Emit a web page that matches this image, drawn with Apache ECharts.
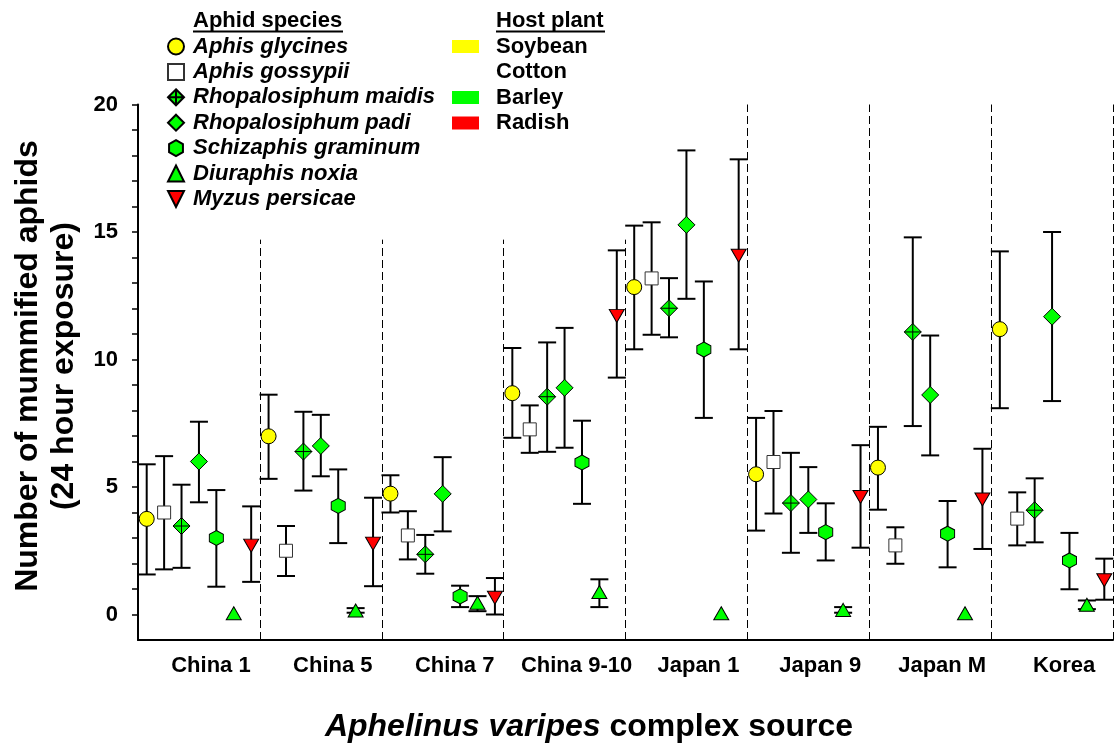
<!DOCTYPE html>
<html><head><meta charset="utf-8">
<script src="https://cdn.jsdelivr.net/npm/echarts@6/dist/echarts.min.js"></script>
<style>html,body{margin:0;padding:0;background:#fff}#c{width:1114px;height:745px}</style>
</head><body><div id="c"></div>
<script>
const sources = ['China 1','China 5','China 7','China 9-10','Japan 1','Japan 9','Japan M','Korea'];
const species = ['Aphis glycines','Aphis gossypii','Rhopalosiphum maidis','Rhopalosiphum padi','Schizaphis graminum','Diuraphis noxia','Myzus persicae'];
const hostPlants = ['Soybean','Cotton','Barley','Radish'];
const yTickLabels = [0,5,10,15,20];

const glycinesMean  = [3.75,6.99,4.74,8.68,12.84,5.50,5.76,11.19];
const glycinesUpper = [5.89,8.62,5.46,10.45,15.25,7.71,7.36,14.24];
const glycinesLower = [1.57,5.32,4.00,6.93,10.40,3.29,4.11,8.09];
const gossypiiMean  = [4.00,2.50,3.10,7.26,13.18,5.98,2.71,3.76];
const gossypiiUpper = [6.21,3.47,4.05,8.20,15.38,7.98,3.42,4.79];
const gossypiiLower = [1.77,1.51,2.16,6.34,10.97,3.96,1.99,2.71];
const maidisMean  = [3.47,6.39,2.36,8.54,12.01,4.37,11.08,4.09];
const maidisUpper = [5.09,7.95,3.12,10.67,13.19,6.34,14.79,5.34];
const maidisLower = [1.83,4.86,1.60,6.38,10.87,2.42,7.39,2.83];
const padiMean  = [6.00,6.61,4.73,8.89,15.28,4.51,8.61,11.68];
const padiUpper = [7.56,7.83,6.17,11.24,18.20,5.78,10.94,15.00];
const padiLower = [4.40,5.42,3.26,6.54,12.38,3.20,6.24,8.37];
const graminumMean  = [3.00,4.26,0.71,5.96,10.39,3.23,3.17,2.12];
const graminumUpper = [4.88,5.69,1.13,7.60,13.06,4.36,4.45,3.20];
const graminumLower = [1.09,2.80,0.29,4.34,7.71,2.12,1.85,0.99];
const noxiaMean  = [0.05,0.16,0.46,0.88,0.05,0.18,0.05,0.38];
const noxiaUpper = [null,0.25,0.72,1.38,null,0.29,null,0.55];
const noxiaLower = [null,0.07,0.13,0.29,null,0.07,null,0.21];
const persicaeMean  = [2.70,2.78,0.66,11.71,14.07,4.61,4.51,1.34];
const persicaeUpper = [4.24,4.58,1.43,14.28,17.85,6.64,6.50,2.19];
const persicaeLower = [1.28,1.11,0.00,9.29,10.40,2.62,2.57,0.58];

const means  = [glycinesMean, gossypiiMean, maidisMean, padiMean, graminumMean, noxiaMean, persicaeMean];
const uppers = [glycinesUpper, gossypiiUpper, maidisUpper, padiUpper, graminumUpper, noxiaUpper, persicaeUpper];
const lowers = [glycinesLower, gossypiiLower, maidisLower, padiLower, graminumLower, noxiaLower, persicaeLower];

const FONT = '"Liberation Sans", Arial, Helvetica, sans-serif';
const YELLOW = '#FFFF00', GREEN = '#00FF00', RED = '#FF0000';
const nSp = species.length;
const xPos = (g, k) => g + (k + 0.5) / nSp;

const styles = [
  {symbol:'circle', size:15, color:YELLOW, border:'#000'},
  {symbol:'rect', size:13, color:'#FFFFFF', border:'#333'},
  {symbol:'path://M0,-1L1,0L0,1L-1,0Z M0,-1L0,1 M-1,0L1,0', size:17, color:GREEN, border:'#000'},
  {symbol:'diamond', size:17, color:GREEN, border:'#000'},
  {symbol:'path://M0,-1L0.866,-0.5L0.866,0.5L0,1L-0.866,0.5L-0.866,-0.5Z', size:[14,15], color:GREEN, border:'#000'},
  {symbol:'path://M0,-1L1,1L-1,1Z', size:[15,13], color:GREEN, border:'#000'},
  {symbol:'path://M-1,-1L1,-1L0,1Z', size:[15,13], color:RED, border:'#000'}
];

const errData = [];
for (let k = 0; k < nSp; k++) {
  for (let g = 0; g < sources.length; g++) {
    if (uppers[k][g] != null) errData.push([xPos(g,k), lowers[k][g], uppers[k][g]]);
  }
}

const dividerTops = [14.7,14.7,14.7,14.7,20,20,20,20];
const dividers = dividerTops.map((t,i) => [{coord:[i+1,-1]},{coord:[i+1,t]}]);

const series = [{
  type:'custom', name:'errorbars', z:1, silent:true,
  encode:{x:0, y:[1,2]},
  data: errData,
  renderItem: function(params, api){
    const x = api.value(0), lo = api.value(1), hi = api.value(2);
    const a = api.coord([x, hi]), b = api.coord([x, lo]);
    const w = 9;
    const st = {stroke:'#000', lineWidth:2, fill:null};
    return {type:'group', children:[
      {type:'line', shape:{x1:a[0], y1:a[1], x2:b[0], y2:b[1]}, style:st},
      {type:'line', shape:{x1:a[0]-w, y1:a[1], x2:a[0]+w, y2:a[1]}, style:st},
      {type:'line', shape:{x1:b[0]-w, y1:b[1], x2:b[0]+w, y2:b[1]}, style:st}
    ]};
  },
  markLine:{silent:true, symbol:['none','none'], label:{show:false},
    lineStyle:{color:'#000', width:1, type:[8,4]}, data: dividers}
}];
species.forEach((name,k) => {
  const s = styles[k];
  series.push({
    type:'scatter', name:name, z:3,
    symbol:s.symbol, symbolSize:s.size,
    itemStyle:{color:s.color, borderColor:s.border, borderWidth:1, opacity:1},
    data: means[k].map((v,g) => [xPos(g,k), v])
  });
});

const chart = echarts.init(document.getElementById('c'), null, {renderer:'canvas'});
const txt = {fill:'#000', fontFamily:FONT, fontWeight:'bold', fontSize:22};
const graphic = [
  {type:'text', x:193, y:21, style:Object.assign({text:'Aphid species', align:'left', verticalAlign:'middle'}, txt)},
  {type:'line', shape:{x1:193, y1:31.5, x2:343, y2:31.5}, style:{stroke:'#000', lineWidth:2}},
  {type:'text', x:496, y:21, style:Object.assign({text:'Host plant', align:'left', verticalAlign:'middle'}, txt)},
  {type:'line', shape:{x1:496, y1:31.5, x2:605, y2:31.5}, style:{stroke:'#000', lineWidth:2}},
  {type:'text', x:46, y:366, rotation:Math.PI/2,
    style:{text:'Number of mummified aphids\n(24 hour exposure)', align:'center', verticalAlign:'middle',
      fill:'#000', fontFamily:FONT, fontWeight:'bold', fontSize:32, lineHeight:36}},
  {type:'text', x:589, y:727,
    style:{text:'{i|Aphelinus varipes} complex source', align:'center', verticalAlign:'middle',
      fill:'#000', fontFamily:FONT, fontWeight:'bold', fontSize:32,
      rich:{i:{fontStyle:'italic', fontWeight:'bold', fontSize:32, fontFamily:FONT, fill:'#000'}}}}
];
const hostColors = [YELLOW, null, GREEN, RED];
const rowY = [46.5, 72, 97.5, 123];
hostPlants.forEach((h,i) => {
  if (hostColors[i]) graphic.push({type:'rect', shape:{x:452, y:rowY[i]-6.5, width:27, height:13}, style:{fill:hostColors[i]}});
  graphic.push({type:'text', x:496, y:rowY[i], style:Object.assign({text:h, align:'left', verticalAlign:'middle'}, txt)});
});

chart.setOption({
  animation:false,
  backgroundColor:'#fff',
  grid:{left:138, right:1, top:104.5, bottom:105, containLabel:false, outerBoundsMode:'none'},
  legend:{data:species, orient:'vertical', left:167, top:35.5, padding:0,
    itemWidth:16, itemHeight:16, itemGap:3.4, selectedMode:false,
    textStyle:{fontSize:22, fontWeight:'bold', fontStyle:'italic', color:'#000', fontFamily:FONT, lineHeight:22, padding:[0,0,0,4]}},
  xAxis:{type:'value', min:0, max:8, interval:1,
    axisLine:{show:true, onZero:false, lineStyle:{color:'#000', width:2}},
    axisTick:{show:false}, splitLine:{show:false},
    axisLabel:{show:true, customValues: sources.map((s,i)=>i+0.5),
      formatter: v => sources[Math.floor(v)],
      margin:15, fontSize:22, fontWeight:'bold', color:'#000', fontFamily:FONT, padding:[0,0,0,24]}},
  yAxis:{type:'value', min:-1, max:20,
    axisLine:{show:true, onZero:false, lineStyle:{color:'#000', width:2}},
    axisTick:{show:true, inside:false, length:6, customValues:Array.from({length:21},(_, i)=>i), lineStyle:{color:'#000', width:1.5}},
    axisLabel:{customValues:yTickLabels, margin:20, fontSize:22, fontWeight:'bold', color:'#000', fontFamily:FONT},
    splitLine:{show:false}},
  graphic: graphic,
  series: series
});
</script></body></html>
